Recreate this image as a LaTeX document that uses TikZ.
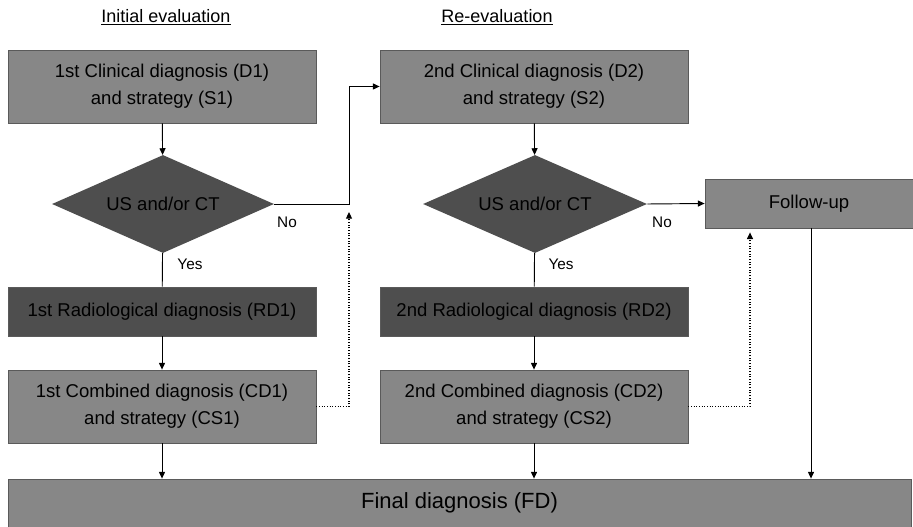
\documentclass[tikz,border=0pt]{standalone}
\usepackage{fontspec}
\setmainfont{Liberation Sans}
\usetikzlibrary{shapes.geometric,arrows.meta}
\definecolor{midgray}{RGB}{135,135,135}
\definecolor{darkgray2}{RGB}{78,78,78}
\definecolor{edgegray}{RGB}{90,90,90}
\begin{document}
\begin{tikzpicture}[x=0.75pt,y=-0.75pt,
  box/.style={draw=edgegray,line width=0.6pt,fill=midgray,align=center,font=\fontsize{13.9}{20}\selectfont,inner sep=0pt},
  darkbox/.style={box,fill=darkgray2},
  dec/.style={diamond,draw=none,fill=darkgray2,inner sep=0pt,font=\fontsize{13.9}{16}\selectfont,aspect=2.27},
  conn/.style={line width=0.7pt,black},
  arr/.style={conn,-{Triangle[length=5pt,width=4.5pt]}},
  dot/.style={arr,line width=0.8pt,dash pattern=on 0.8pt off 1.2pt},
  lbl/.style={font=\fontsize{11.5}{13}\selectfont,inner sep=0pt},
  hdr/.style={font=\fontsize{13.5}{16}\selectfont,inner sep=0pt}]
\useasboundingbox (0,0) rectangle (913,527);
\node[hdr] (h1) at (166,17) {\underline{Initial evaluation}};
\node[hdr] (h2) at (497,17) {\underline{Re-evaluation}};
\node[box,minimum width=231pt,minimum height=54.75pt] (d1) at (162,86.5) {1st Clinical diagnosis (D1)\\and strategy (S1)};
\node[box,minimum width=231pt,minimum height=54.75pt] (d2) at (534,86.5) {2nd Clinical diagnosis (D2)\\and strategy (S2)};
\node[dec,minimum width=166.5pt,minimum height=73.5pt] (q1) at (163,204) {US and/or CT};
\node[dec,minimum width=168pt,minimum height=73.5pt] (q2) at (535,204) {US and/or CT};
\node[darkbox,minimum width=231pt,minimum height=36.75pt] (r1) at (162,311.5) {1st Radiological diagnosis (RD1)};
\node[darkbox,minimum width=231pt,minimum height=36.75pt] (r2) at (534,311.5) {2nd Radiological diagnosis (RD2)};
\node[box,minimum width=231pt,minimum height=54.75pt] (c1) at (162,406.5) {1st Combined diagnosis (CD1)\\and strategy (CS1)};
\node[box,minimum width=231pt,minimum height=54.75pt] (c2) at (534,406.5) {2nd Combined diagnosis (CD2)\\and strategy (CS2)};
\node[box,minimum width=156pt,minimum height=36.75pt] (fu) at (809,203.5) {Follow-up};
\node[box,minimum width=677.25pt,minimum height=36pt,font=\fontsize{16.5}{19}\selectfont] (fd) at (459.5,503) {Final diagnosis (FD)};
\node[lbl] (no1) at (287,222) {No};
\node[lbl] (yes1) at (190,264) {Yes};
\node[lbl] (no2) at (662,222) {No};
\node[lbl] (yes2) at (561,264) {Yes};
\coordinate (k1) at (349,204);
\coordinate (k2) at (349,406.5);
\coordinate (k3) at (750,406.5);
\coordinate (k4) at (811,228);
\draw[arr] (d1) -- (q1);
\draw[conn] (q1) -- (r1);
\draw[arr] (r1) -- (c1);
\draw[arr] (c1) -- (c1|-fd.north);
\draw[arr] (q1.east) -- (k1) |- (d2.west);
\draw[dot] (c1.east) -- (k2) -- ([yshift=-6pt]k1);
\draw[arr] (d2) -- (q2);
\draw[conn] (q2) -- (r2);
\draw[arr] (r2) -- (c2);
\draw[arr] (c2) -- (c2|-fd.north);
\draw[arr] (q2.east) -- (fu.west);
\draw[dot] (c2.east) -- (k3) -- ([yshift=-3pt]k3|-fu.south);
\draw[arr] (k4) -- (k4|-fd.north);
\end{tikzpicture}
\end{document}
